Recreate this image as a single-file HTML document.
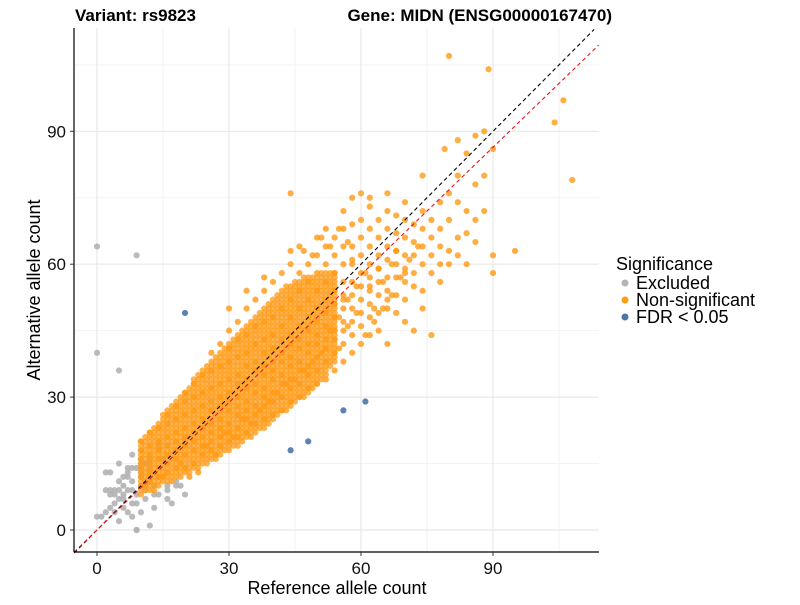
<!DOCTYPE html>
<html><head><meta charset="utf-8"><style>
html,body{margin:0;padding:0;background:#fff;}
text{font-family:"Liberation Sans",Arial,sans-serif;}
</style></head><body>
<svg id="chart" width="800" height="600" viewBox="0 0 800 600" xmlns="http://www.w3.org/2000/svg">
<rect x="0" y="0" width="800" height="600" fill="#fff"/>
<g id="grid"></g>
<g id="points"></g>
<g id="lines"></g>
<line x1="74" y1="28" x2="74" y2="552" stroke="#000" stroke-width="1.2"/>
<line x1="74" y1="552" x2="599" y2="552" stroke="#000" stroke-width="1.2"/>
<g id="ticks"></g>
<text x="75" y="21" font-size="17" font-weight="bold">Variant: rs9823</text>
<text x="612" y="21" font-size="17" font-weight="bold" text-anchor="end">Gene: MIDN (ENSG00000167470)</text>
<text x="337" y="594" font-size="18" text-anchor="middle">Reference allele count</text>
<text transform="translate(40,290) rotate(-90)" font-size="18" text-anchor="middle">Alternative allele count</text>
<g>
<text x="616" y="270" font-size="18">Significance</text>
<circle cx="625" cy="283" r="3.5" fill="#B3B3B3"/>
<text x="636" y="289" font-size="18">Excluded</text>
<circle cx="625" cy="300" r="3.5" fill="#FF9A14"/>
<text x="636" y="306" font-size="18">Non-significant</text>
<circle cx="625" cy="317" r="3.5" fill="#4A77AA"/>
<text x="636" y="323" font-size="18">FDR &lt; 0.05</text>
</g>
</svg>
<script>
const xTicks=[0,30,60,90];
const yTicks=[0,30,60,90];
const minorTicks=[15,45,75,105];
// dense core: for each reference count, alternative counts span altLow..altHigh
const bandRef=[10,11,12,13,14,15,16,17,18,19,20,21,22,23,24,25,26,27,28,29,30,31,32,33,34,35,36,37,38,39,40,41,42,43,44,45,46,47,48,49,50,51,52,53,54];
const bandLow=[8,9,9,10,10,11,11,12,12,12,13,13,14,14,15,15,16,16,17,18,18,19,19,20,21,21,22,23,23,24,25,26,27,27,28,29,30,30,31,32,33,34,35,37,38];
const bandHigh=[20,21,22,23,24,26,27,28,29,30,31,32,34,35,36,37,38,39,40,41,42,43,44,45,46,47,48,49,50,51,52,53,54,55,55,56,56,57,57,57,57,58,58,58,58];
const refCounts=[10,12,14,16,18,20,22,24,26,28,30,32,34,36,38,40,42,44,46,48,50,52,54,56,58,60,62,64,66,68,70,72,74,76,78,80,82,84,86,88,90,95];
const altByRef=[
[12,14,16,18,20],[11,13,15,17,19,22],[12,14,16,18,20,23],[13,15,17,19,21,24,26],
[14,16,18,20,22,25,28],[14,17,19,21,23,26,29,31],[15,18,20,22,24,27,30,33],[17,19,21,23,25,28,31,35],
[18,20,22,24,27,29,32,36,40],[19,21,23,25,28,30,33,37,42],[20,22,24,27,29,31,34,38,41,45],[21,23,26,28,30,33,35,39,43,47],
[22,25,27,29,32,34,37,40,44,50],[24,26,28,31,33,36,38,42,46,52],[25,28,30,32,35,37,40,43,47,54],[26,29,31,34,36,38,41,44,48,56],
[27,30,33,35,38,40,43,46,50,58],[29,32,34,37,39,42,44,48,52,60,63],[30,33,36,38,41,43,46,50,54,58,64],[32,35,37,40,42,45,48,52,56,60],
[33,36,39,42,44,47,50,54,58,62,66],[34,38,41,43,46,49,52,56,60,64,68],[36,40,43,45,48,51,54,58,62,66],[38,42,45,47,50,53,56,60,64,68,72],
[40,44,47,50,53,56,60,64,69,75],[42,46,49,52,55,58,62,66,70],[44,48,51,54,57,60,64,68,73],[45,49,53,56,59,62,66,70],
[42,50,54,57,61,64,68,72,76],[49,53,57,60,63,67,71],[47,52,56,59,62,66,70,74],[45,55,58,62,65,69],
[50,54,60,64,68,72,80],[44,58,62,66,70],[56,60,64,68,74],[60,63,70,76],
[62,66,74,80,88],[60,67,72,85],[65,70,78,89],[72,80,90],[58,62,86],[63]];
const outlierRef=[80,89,106,108,104,79,60,44,62,11,13,15,17,19,23,27,31,35,53,55,57,59,61,63,65,67,51,49,47,45,43,41,39,37,33,29,25,21,61,63,65,67,69,71,73,62,64,66,68,70,57,55,53,51,49,47,30,34,38,55,57,59,56,58];
const outlierAlt=[107,104,97,79,92,86,76,76,75,10,9,12,11,15,13,17,21,24,45,48,52,55,58,50,56,60,40,38,36,34,33,31,29,27,25,22,19,12,44,47,50,53,57,61,64,55,59,52,63,58,65,68,64,66,62,63,50,54,57,41,46,49,52,61];
const excludedRef=[0,9,0,5,0,2,3,4,5,5,6,7,8,9,10,10,11,12,13,14,15,16,17,18,19,20,8,9,12,14,16,18,3,6,9,7,11,13,4,2,9,5,6,8,10,12,14,3,1,4,5,6,7,8,9,10,11,12,13,14,15,16,6,7,8,10,11,5,3,4,2,7,8];
const excludedAlt=[64,62,40,36,3,13,9,6,9,15,5,12,3,6,10,4,7,14,8,18,16,9,6,11,10,8,17,0,1,12,7,10,13,10,14,14,11,5,8,4,0,2,7,9,12,16,19,5,3,9,11,8,9,11,8,13,9,12,10,8,12,10,12,13,14,15,15,7,8,4,9,4,6];
const fdrRef=[20,44,48,56,61];
const fdrAlt=[49,18,20,27,29];
const X0=97,XS=4.4,Y0=530,YS=4.43;
function sx(v){return X0+v*XS;}
function sy(v){return Y0-v*YS;}
const NS="http://www.w3.org/2000/svg";
function mk(tag,attrs,parent){const e=document.createElementNS(NS,tag);for(const k in attrs)e.setAttribute(k,attrs[k]);parent.appendChild(e);return e;}
const grid=document.getElementById('grid');
minorTicks.forEach(t=>{
 let a=mk('line',{x1:sx(t),x2:sx(t),y1:28,y2:552,stroke:'#F2F2F2','stroke-width':1},grid);
 
 
 let b=mk('line',{x1:74,x2:599,y1:sy(t),y2:sy(t),stroke:'#F2F2F2','stroke-width':1},grid);
 
 
});
xTicks.forEach(t=>{
 let a=mk('line',{x1:sx(t),x2:sx(t),y1:28,y2:552,stroke:'#E8E8E8','stroke-width':1.2},grid);
 
 
});
yTicks.forEach(t=>{
 let b=mk('line',{x1:74,x2:599,y1:sy(t),y2:sy(t),stroke:'#E8E8E8','stroke-width':1.2},grid);
 
 
});
const pts=document.getElementById('points');
function dot(x,y,c,op,name){
 const e=mk('circle',{cx:sx(x),cy:sy(y),r:3.1,fill:c,'fill-opacity':op},pts);
 
 
}
excludedRef.forEach((x,i)=>dot(x,excludedAlt[i],'#B3B3B3',0.9,'excluded-point'));
bandRef.forEach((x,i)=>{for(let y=bandLow[i];y<=bandHigh[i];y++)dot(x,y,'#FF9A14',0.75,'nonsignificant-point');});
refCounts.forEach((x,i)=>altByRef[i].forEach(y=>dot(x,y,'#FF9A14',0.8,'nonsignificant-point')));
outlierRef.forEach((x,i)=>dot(x,outlierAlt[i],'#FF9A14',0.8,'nonsignificant-point'));
fdrRef.forEach((x,i)=>dot(x,fdrAlt[i],'#4A77AA',0.9,'fdr-point'));
const lines=document.getElementById('lines');
let l1=mk('line',{x1:sx(-5.2),y1:sy(-5.2),x2:sx(113),y2:sy(113),stroke:'#000','stroke-width':1.1,'stroke-dasharray':'4,3'},lines);


let l2=mk('line',{x1:sx(-5.2),y1:sy(-5.2*0.96),x2:sx(114),y2:sy(114*0.96),stroke:'#E8141C','stroke-width':1.1,'stroke-dasharray':'4,3'},lines);


const ticks=document.getElementById('ticks');
xTicks.forEach(t=>{
 let a=mk('line',{x1:sx(t),x2:sx(t),y1:552,y2:556,stroke:'#333','stroke-width':1},ticks);
 
 
 let tx=mk('text',{x:sx(t),y:574,'font-size':17,'text-anchor':'middle',fill:'#111'},ticks);
 tx.textContent=t;
 
 
});
yTicks.forEach(t=>{
 let a=mk('line',{x1:70,x2:74,y1:sy(t),y2:sy(t),stroke:'#333','stroke-width':1},ticks);
 
 
 let tx=mk('text',{x:66,y:sy(t)+6,'font-size':17,'text-anchor':'end',fill:'#111'},ticks);
 tx.textContent=t;
 
 
});
</script>
</body></html>
